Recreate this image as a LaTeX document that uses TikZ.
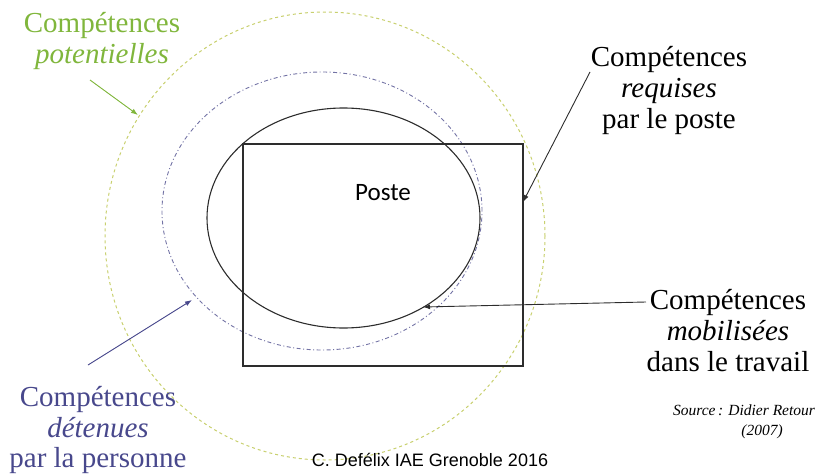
\documentclass[tikz,border=0pt]{standalone}
\usepackage{fontspec}
\setmainfont{Liberation Serif}
\newfontfamily\posteFont{Carlito}
\newfontfamily\arialFont{Liberation Sans}
\usetikzlibrary{shapes.geometric,arrows.meta}
\definecolor{vertT}{RGB}{128,182,60}
\definecolor{vertC}{RGB}{200,208,110}
\definecolor{bleuT}{RGB}{72,72,140}
\definecolor{bleuC}{RGB}{115,115,165}
\definecolor{trait}{RGB}{45,45,45}
\begin{document}
\begin{tikzpicture}[x=1pt,y=-1pt,
  bigtxt/.style={align=center,inner sep=0pt,font=\fontsize{29}{31}\selectfont},
  fleche/.style={line width=0.9pt,-{Latex[length=7pt,width=5pt]}},
  contour/.style={draw=trait,line width=1.1pt,inner sep=0pt}]
\useasboundingbox (0,0) rectangle (815,474);
% shapes
\node[ellipse,draw=vertC,line width=1pt,dash pattern=on 3pt off 3pt,minimum width=440pt,minimum height=448pt,inner sep=0pt] (pot) at (325,236) {};
\node[ellipse,draw=bleuC,line width=0.9pt,dash pattern=on 4pt off 2.5pt on 1pt off 2.5pt,minimum width=320pt,minimum height=278pt,inner sep=0pt] (det) at (322,211) {};
\node[rectangle,contour,minimum width=280pt,minimum height=222pt] (poste) at (383,255) {};
\node[ellipse,contour,minimum width=273pt,minimum height=220pt] (mob) at (343.5,218) {};
\node[inner sep=0pt,font=\posteFont\fontsize{25}{27}\selectfont] (postelbl) at (383,193) {Poste};
% labels
\node[bigtxt,text=vertT] (tpot) at (102,41) {Compétences\\\textit{potentielles}};
\node[bigtxt,text=black] (treq) at (669,91) {Compétences\\\textit{requises}\\par le poste};
\node[bigtxt,text=black] (tmob) at (728,331) {Compétences\\\textit{mobilisées}\\dans le travail};
\node[bigtxt,text=bleuT] (tdet) at (98,430) {Compétences\\\textit{détenues}\\par la personne};
\node[inner sep=0pt,font=\itshape\fontsize{15.5}{18}\selectfont] (src1) at (744,410) {Source\,: Didier Retour};
\node[inner sep=0pt,font=\itshape\fontsize{15.5}{18}\selectfont] (src2) at (762,432) {(2007)};
\node[inner sep=0pt,font=\arialFont\fontsize{18}{20}\selectfont] (credit) at (430,460) {C. Defélix IAE Grenoble 2016};
% arrow ends
\coordinate (apot) at (90,80);
\coordinate (bpot) at (138,115);
\coordinate (adet) at (88,365);
\coordinate (bdet) at (192,300);
\coordinate (areq) at (590,72);
\coordinate (breq) at (523,202);
\coordinate (amob) at (646,302);
\coordinate (bmob) at (423,307);
\draw[fleche,draw=vertT,fill=vertT] (apot) -- (bpot);
\draw[fleche,draw=bleuT,fill=bleuT] (adet) -- (bdet);
\draw[fleche,draw=trait] (areq) -- (breq);
\draw[fleche,draw=trait] (amob) -- (bmob);
\end{tikzpicture}
\end{document}
